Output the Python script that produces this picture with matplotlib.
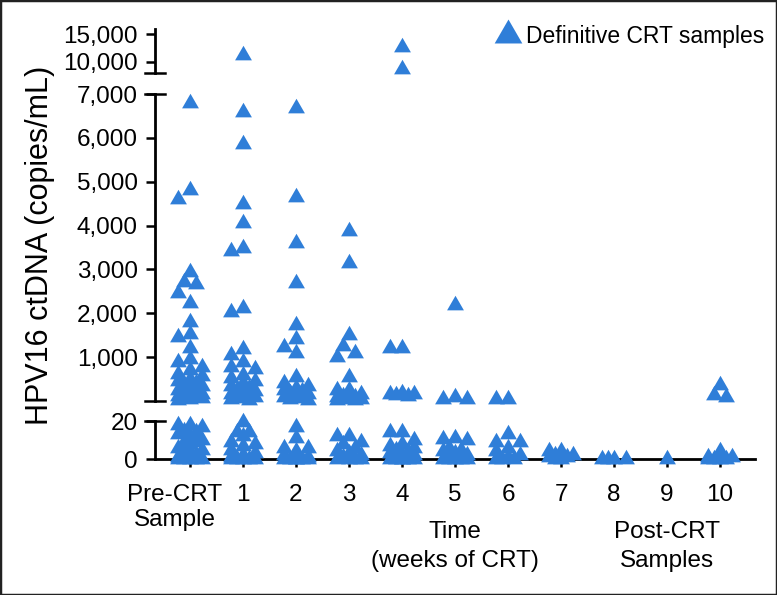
import numpy as np
import matplotlib
matplotlib.use("Agg")
import matplotlib.pyplot as plt
from matplotlib.lines import Line2D
from matplotlib.patches import Rectangle
from matplotlib.ticker import FixedLocator, FuncFormatter

plt.rcParams["font.family"] = ["Liberation Sans", "DejaVu Sans"]

BLUE = "#2F7ED8"

# ------------------------------------------------------------
# Data: HPV16 ctDNA (copies/mL) per sampling time
# index 0 = pre-CRT sample, 1-7 = weeks of CRT, 8-10 = post-CRT
# ------------------------------------------------------------
TIMES = list(range(11))
TICK_LABELS = ["", "1", "2", "3", "4", "5", "6", "7", "8", "9", "10"]

pre_crt = [6800, 4810, 4600, 2940, 2710, 2670, 2460, 2230, 1800, 1530, 1470,
           1210, 950, 890, 780, 700, 620, 560, 500, 450, 420, 380, 340, 300,
           260, 230, 200, 170, 150, 120, 100, 80, 60, 45, 30,
           18, 18, 17, 15, 14, 13, 12, 10, 9, 9, 8, 6, 5, 4, 3, 2, 1,
           0, 0, 0, 0, 0]
week1 = [11300, 6600, 5850, 4500, 4060, 3490, 3420, 2120, 2030, 1190, 1050,
         880, 780, 740, 600, 520, 450, 400, 350, 300, 260, 220, 180, 150,
         120, 100, 80, 60, 40, 30,
         19.5, 14, 14, 12, 9, 8, 7, 5, 3, 2, 1, 0, 0, 0, 0, 0]
week2 = [6680, 4650, 3600, 2690, 1730, 1410, 1230, 1090, 550, 420, 350, 300,
         260, 220, 180, 150, 120, 90, 60, 40, 30,
         17, 11, 6, 6, 4, 2, 1, 0, 0, 0, 0, 0, 0]
week3 = [3880, 3150, 1500, 1250, 1090, 1000, 550, 250, 250, 150, 120, 100,
         80, 60, 50, 40, 30, 25,
         12, 12, 9, 8, 6, 4, 3, 2, 1, 0, 0, 0, 0]
week4 = [12700, 8700, 1210, 1210, 180, 160, 150, 130, 110,
         14, 14, 10, 8, 7, 6, 5, 4, 3, 2, 2, 1, 1, 0, 0, 0, 0, 0, 0]
week5 = [2190, 100, 40, 40,
         11, 10.5, 10, 6, 5, 4, 3, 2, 1, 0, 0, 0, 0, 0]
week6 = [40, 40, 13, 9, 9, 6, 4, 2, 1, 0, 0, 0]
week7 = [4, 4, 2, 2, 1, 1, 0, 0]
week8 = [0, 0, 0, 0]
week9 = [0]
week10 = [360, 140, 90, 4, 1, 1, 0, 0, 0, 0]

VALUES = [pre_crt, week1, week2, week3, week4, week5, week6, week7, week8,
          week9, week10]

# broken y axis segments
LOW_LIM = (0, 20)
MID_LIM = (0, 7000)
TOP_LIM = (8000, 16000)

# ------------------------------------------------------------
# Figure / axes layout (pixel based, 777 x 595)
# ------------------------------------------------------------
W, H = 777, 595
fig = plt.figure(figsize=(W / 100, H / 100), dpi=100)


def rect(left, top, right, bottom):
    return [left / W, 1 - bottom / H, (right - left) / W, (bottom - top) / H]


ax_low = fig.add_axes(rect(155, 421, 755, 459))
ax_mid = fig.add_axes(rect(155, 94, 755, 401))
ax_top = fig.add_axes(rect(155, 29, 755, 72.7))

for ax, lim in ((ax_low, LOW_LIM), (ax_mid, MID_LIM), (ax_top, TOP_LIM)):
    ax.set_xlim(-0.66, 10.66)
    ax.set_ylim(*lim)
    ax.patch.set_alpha(0)
    for sp in ("top", "right"):
        ax.spines[sp].set_visible(False)
    ax.spines["left"].set_linewidth(2.0)
    ax.tick_params(axis="y", length=6.5, width=1.8, labelsize=17.5, pad=6)
    ax.yaxis.set_major_formatter(FuncFormatter(lambda v, p: f"{v:,.0f}"))

for ax in (ax_mid, ax_top):
    ax.spines["bottom"].set_visible(False)
    ax.set_xticks([])

ax_low.spines["bottom"].set_linewidth(2.0)
ax_low.set_xticks(TIMES)
ax_low.set_xticklabels(TICK_LABELS)
ax_low.tick_params(axis="x", length=6, width=1.8, labelsize=17.5, pad=12)
ax_low.yaxis.set_major_locator(FixedLocator([0, 20]))
ax_mid.yaxis.set_major_locator(FixedLocator([1000, 2000, 3000, 4000, 5000,
                                             6000, 7000]))
ax_top.yaxis.set_major_locator(FixedLocator([10000, 15000]))

# segment end caps of the broken axis
cap = 10 / 600
for ax, yfr in ((ax_top, 0), (ax_mid, 1), (ax_mid, 0), (ax_low, 1)):
    ax.add_line(Line2D([-cap, cap], [yfr, yfr], transform=ax.transAxes,
                       color="black", lw=1.8, clip_on=False))


# ------------------------------------------------------------
# Scatter with a simple deterministic swarm layout
# ------------------------------------------------------------
def seg_axis(v):
    if v <= LOW_LIM[1]:
        return ax_low
    if v <= 7500:
        return ax_mid
    return ax_top


def swarm(g, vals, step=6.0, rx=12.0, ry=11.0, nside=2):
    """Place points of one group side by side (pixel space)."""
    placed = []
    out = []
    cands = [0.0]
    for k in range(1, nside + 1):
        cands += [-k * step, k * step]
    for v in sorted(vals, reverse=True):
        ax = seg_axis(v)
        x0, y0 = ax.transData.transform((g, v))
        best, best_d = None, -1
        for c in cands:
            d = min([np.hypot((x0 + c - px) / rx, (y0 - py) / ry)
                     for px, py in placed], default=1e9)
            if d >= 1.0:
                best = c
                break
            if d > best_d:
                best, best_d = c, d
        placed.append((x0 + best, y0))
        xd = ax.transData.inverted().transform((x0 + best, y0))[0]
        out.append((ax, xd, v))
    return out


for g, vals in zip(TIMES, VALUES):
    for ax, xd, v in swarm(g, vals):
        ax.plot(xd, v, marker=(3, 0, 0), ms=14, color=BLUE, mew=0,
                ls="none", clip_on=False, zorder=3)

# extra x-axis text
ax_low.annotate("Pre-CRT\nSample", xy=(0, 0), xycoords=("data", "axes fraction"),
                xytext=(-11, -18), textcoords="offset points", ha="center",
                va="top", fontsize=17.5, linespacing=1.15)
ax_low.annotate("Time\n(weeks of CRT)", xy=(5, 0),
                xycoords=("data", "axes fraction"), xytext=(0, -44.5),
                textcoords="offset points", ha="center", va="top",
                fontsize=17.5, linespacing=1.45)
ax_low.annotate("Post-CRT\nSamples", xy=(9, 0),
                xycoords=("data", "axes fraction"), xytext=(0, -44.5),
                textcoords="offset points", ha="center", va="top",
                fontsize=17.5, linespacing=1.45)

fig.text(40 / W, 1 - 245 / H, "HPV16 ctDNA (copies/mL)", rotation=90,
         ha="center", va="center", fontsize=22)

handle = Line2D([], [], marker=(3, 0, 0), ms=23, color=BLUE, mew=0, ls="none")
fig.legend(handles=[handle], labels=["Definitive CRT samples"],
           loc="center right", bbox_to_anchor=(776 / W, 1 - 37 / H),
           frameon=False, fontsize=16.5, handletextpad=0.3, borderpad=0,
           handlelength=1.0)

fig.add_artist(Rectangle((0, 0), 1, 1, transform=fig.transFigure,
                         fill=False, ec="#222222", lw=2.5))

fig.savefig("out.png", dpi=100)
